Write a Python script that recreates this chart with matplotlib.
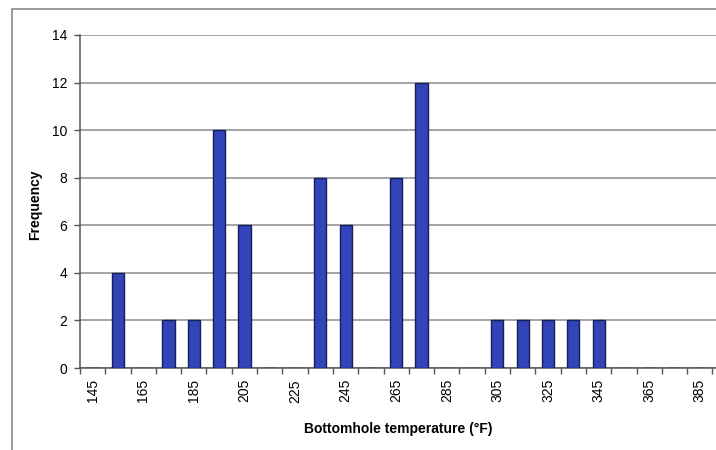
import matplotlib.pyplot as plt

plt.rcParams['font.family'] = ['Liberation Sans', 'DejaVu Sans']

# bottomhole temperature classes (deg F) and counts
temps = [145, 155, 165, 175, 185, 195, 205, 215, 225, 235, 245, 255, 265,
         275, 285, 295, 305, 315, 325, 335, 345, 355, 365, 375, 385]
freq = [0, 4, 0, 2, 2, 10, 6, 0, 0, 8, 6, 0, 8,
        12, 0, 0, 2, 2, 2, 2, 2, 0, 0, 0, 0]
y_ticks = [0, 2, 4, 6, 8, 10, 12, 14]

fig = plt.figure(figsize=(7.16, 4.5), dpi=100)
# chart area border
fig.patches.append(plt.Rectangle((12 / 716, -0.01), 1.0, 1 - 9 / 450 + 0.01,
                                 transform=fig.transFigure, fill=False,
                                 edgecolor='#8a8a8a', linewidth=1.2))

ax = fig.add_axes([80 / 716, 1 - 368 / 450, 636 / 716, 333 / 450])
pos = list(range(len(temps)))
ax.bar(pos, freq, width=0.48, color='#3343b8', edgecolor='#14205a',
       linewidth=1.0, zorder=3)

ax.set_xlim(-0.5, len(temps) - 0.36)
ax.set_ylim(0, 14)
ax.set_yticks(y_ticks)
ax.yaxis.grid(True, color='#8c8c8c', linewidth=1.1, zorder=0)

ax.set_xticks(pos[::2])
ax.set_xticklabels([str(t) for t in temps[::2]], rotation=90)
ax.set_xticks([p - 0.5 for p in pos] + [len(temps) - 0.5], minor=True)
ax.tick_params(axis='x', which='major', length=0, pad=8, labelsize=10)
ax.tick_params(axis='x', which='minor', length=4, width=1, color='#555555')
ax.tick_params(axis='y', length=4, width=1, color='#555555', labelsize=10,
               pad=5)

for s in ['top', 'right']:
    ax.spines[s].set_visible(False)
for s in ['left', 'bottom']:
    ax.spines[s].set_color('#555555')
    ax.spines[s].set_linewidth(1.1)

ax.set_xlabel('Bottomhole temperature (°F)', fontsize=10, fontweight='bold',
              labelpad=14)
ax.set_ylabel('Frequency', fontsize=10, fontweight='bold', labelpad=4)
ax.yaxis.set_label_coords(-0.06, 0.49)

fig.savefig('out.png', dpi=100)
